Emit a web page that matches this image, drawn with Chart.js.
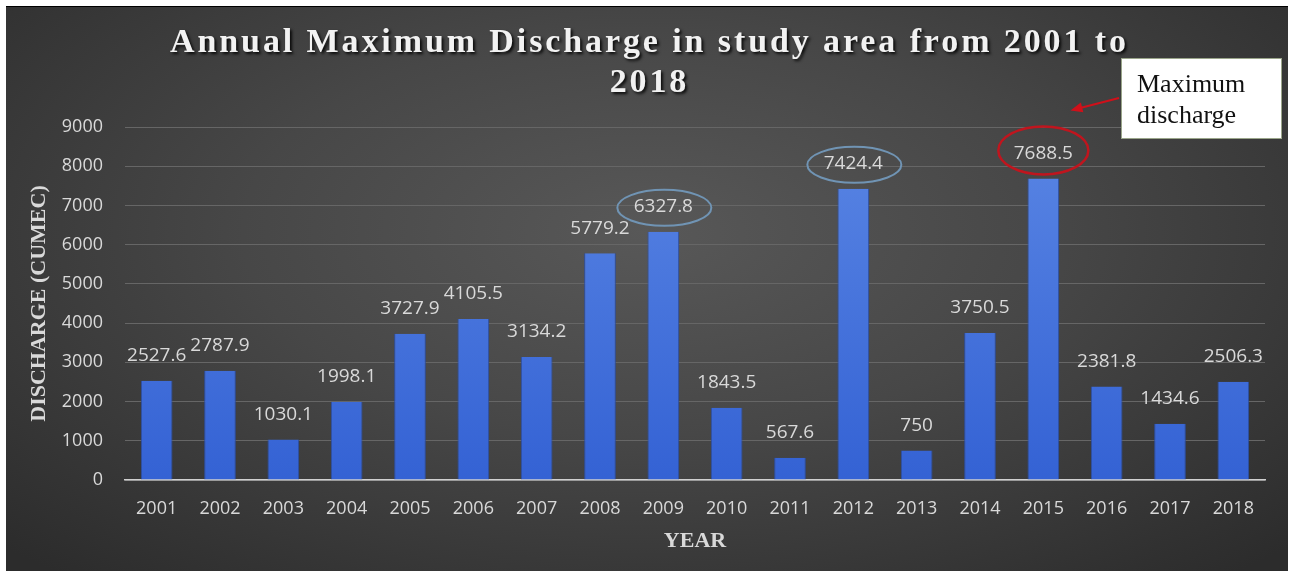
<!DOCTYPE html>
<html>
<head>
<meta charset="utf-8">
<script src="https://cdn.jsdelivr.net/npm/chart.js@4/dist/chart.umd.min.js"></script>
<style>
  html, body { margin: 0; padding: 0; background: #fff; }
  #frame {
    position: absolute; left: 6px; top: 6px; width: 1282px; height: 564px;
    border-top: 1px solid #000;
    background: radial-gradient(ellipse 70% 80% at 50% 40%, #585858 0%, #474747 45%, #2c2c2c 100%);
  }
  #chart { display: block; }
</style>
</head>
<body>
<div id="frame"><canvas id="chart" width="1282" height="564"></canvas></div>
<script>
// ─── Data ────────────────────────────────────────────────────────────────────
const YEARS = ["2001", "2002", "2003", "2004", "2005", "2006", "2007", "2008", "2009",
               "2010", "2011", "2012", "2013", "2014", "2015", "2016", "2017", "2018"];
const DISCHARGE = [2527.6, 2787.9, 1030.1, 1998.1, 3727.9, 4105.5, 3134.2, 5779.2, 6327.8,
                   1843.5, 567.6, 7424.4, 750, 3750.5, 7688.5, 2381.8, 1434.6, 2506.3];
const Y_TICKS = [0, 1000, 2000, 3000, 4000, 5000, 6000, 7000, 8000, 9000];
const TITLE_LINES = ["Annual Maximum Discharge in study area from 2001 to", "2018"];
const CIRCLED_BLUE = ["2009", "2012"];
const CIRCLED_RED = "2015";
const NOTE_LINES = ["Maximum", "discharge"];

const LABEL_FONT = "'Open Sans', sans-serif";
const SERIF = "'Liberation Serif', 'Times New Roman', serif";

// ─── Plugins ─────────────────────────────────────────────────────────────────
const titlePlugin = {
    id: "serifTitle",
    afterDraw(chart) {
        const ctx = chart.ctx;
        ctx.save();
        ctx.font = `bold 34px ${SERIF}`;
        ctx.fillStyle = "#f2f2f2";
        ctx.textAlign = "center";
        ctx.textBaseline = "middle";
        ctx.shadowColor = "rgba(0,0,0,0.85)";
        ctx.shadowOffsetX = 2;
        ctx.shadowOffsetY = 2;
        ctx.shadowBlur = 3;
        // stretch the first line to the width it has in the original
        const plain = ctx.measureText(TITLE_LINES[0]).width;
        const spacing = Math.max(0, (956 - plain) / (TITLE_LINES[0].length - 1));
        ctx.letterSpacing = spacing.toFixed(2) + "px";
        ctx.fillText(TITLE_LINES[0], 642 + spacing / 2, 36);
        ctx.fillText(TITLE_LINES[1], 642 + spacing / 2, 76);
        ctx.restore();
    },
};

const valueLabels = {
    id: "valueLabels",
    afterDatasetsDraw(chart) {
        const ctx = chart.ctx;
        const meta = chart.getDatasetMeta(0);
        ctx.save();
        ctx.font = `19px ${LABEL_FONT}`;
        ctx.fillStyle = "#d9d9d9";
        ctx.textAlign = "center";
        ctx.textBaseline = "middle";
        meta.data.forEach((bar, i) => {
            ctx.fillText(String(DISCHARGE[i]), bar.x, bar.y - 25);
        });
        ctx.restore();
    },
};

const highlights = {
    id: "highlights",
    afterDraw(chart) {
        const ctx = chart.ctx;
        const meta = chart.getDatasetMeta(0);
        ctx.save();
        CIRCLED_BLUE.forEach((yr) => {
            const bar = meta.data[YEARS.indexOf(yr)];
            ctx.beginPath();
            ctx.ellipse(bar.x + 1, bar.y - 24, 47, 18, 0, 0, Math.PI * 2);
            ctx.strokeStyle = "#7094b4";
            ctx.lineWidth = 2;
            ctx.stroke();
        });
        const red = meta.data[YEARS.indexOf(CIRCLED_RED)];
        ctx.beginPath();
        ctx.ellipse(red.x, red.y - 28, 45, 24, 0, 0, Math.PI * 2);
        ctx.strokeStyle = "#c0151e";
        ctx.lineWidth = 2.5;
        ctx.stroke();

        // callout box
        ctx.fillStyle = "#ffffff";
        ctx.fillRect(1115, 51, 161, 81);
        ctx.strokeStyle = "#9aa58a";
        ctx.lineWidth = 1;
        ctx.strokeRect(1115.5, 51.5, 160, 80);
        ctx.fillStyle = "#111";
        ctx.font = `26px ${SERIF}`;
        ctx.textAlign = "left";
        ctx.textBaseline = "middle";
        ctx.fillText(NOTE_LINES[0], 1131, 78);
        ctx.fillText(NOTE_LINES[1], 1131, 109);

        // arrow from box toward the red ellipse
        const x0 = 1113, y0 = 91, x1 = red.x + 31, y1 = red.y - 69;
        ctx.strokeStyle = "#d0101a";
        ctx.fillStyle = "#d0101a";
        ctx.lineWidth = 2;
        ctx.beginPath();
        ctx.moveTo(x0, y0);
        ctx.lineTo(x1, y1);
        ctx.stroke();
        const a = Math.atan2(y1 - y0, x1 - x0);
        ctx.beginPath();
        ctx.moveTo(x1 + 4 * Math.cos(a), y1 + 4 * Math.sin(a));
        ctx.lineTo(x1 - 8 * Math.cos(a) + 5 * Math.sin(a), y1 - 8 * Math.sin(a) - 5 * Math.cos(a));
        ctx.lineTo(x1 - 8 * Math.cos(a) - 5 * Math.sin(a), y1 - 8 * Math.sin(a) + 5 * Math.cos(a));
        ctx.closePath();
        ctx.fill();
        ctx.restore();
    },
};

// ─── Bar fill ────────────────────────────────────────────────────────────────
function barFill(context) {
    const { chart } = context;
    const area = chart.chartArea;
    if (!area) return "#4a78dc";
    const g = chart.ctx.createLinearGradient(0, area.top, 0, area.bottom);
    g.addColorStop(0, "#5a86e4");
    g.addColorStop(1, "#3462d4");
    return g;
}

// ─── Chart ───────────────────────────────────────────────────────────────────
new Chart(document.getElementById("chart"), {
    type: "bar",
    data: {
        labels: YEARS,
        datasets: [{
            data: DISCHARGE,
            backgroundColor: barFill,
            borderColor: "#2b4fa8",
            borderWidth: { left: 1, right: 1, top: 0, bottom: 0 },
            barPercentage: 0.5,
            categoryPercentage: 1.0,
        }],
    },
    options: {
        responsive: false,
        animation: false,
        devicePixelRatio: 1,
        layout: { padding: { top: 120, right: 23, bottom: 16, left: 0 } },
        plugins: {
            legend: { display: false },
            title: { display: false },
            tooltip: { enabled: false },
        },
        scales: {
            x: {
                grid: { display: false, drawTicks: false },
                border: { display: true, color: "#d0d0d0", width: 1.5 },
                ticks: {
                    color: "#d9d9d9",
                    font: { family: LABEL_FONT, size: 18 },
                    padding: 18,
                },
                title: {
                    display: true,
                    text: "YEAR",
                    color: "#d9d9d9",
                    font: { family: SERIF, size: 22, weight: "bold" },
                    padding: { top: 8, bottom: 0 },
                },
                afterFit(scale) { scale.height = 75; },
            },
            y: {
                min: 0,
                max: 9000,
                afterBuildTicks(scale) { scale.ticks = Y_TICKS.map((v) => ({ value: v })); },
                grid: { color: "#666666", lineWidth: 1, drawTicks: false },
                border: { display: false },
                ticks: {
                    color: "#d9d9d9",
                    font: { family: LABEL_FONT, size: 18 },
                    padding: 22,
                    callback: (v) => String(v),
                },
                title: {
                    display: true,
                    text: "DISCHARGE (CUMEC)",
                    color: "#d9d9d9",
                    font: { family: SERIF, size: 22, weight: "bold" },
                    padding: { top: 20, bottom: 0 },
                },
                afterFit(scale) { scale.width = 119; },
            },
        },
    },
    plugins: [valueLabels, highlights, titlePlugin],
});
</script>
</body>
</html>
